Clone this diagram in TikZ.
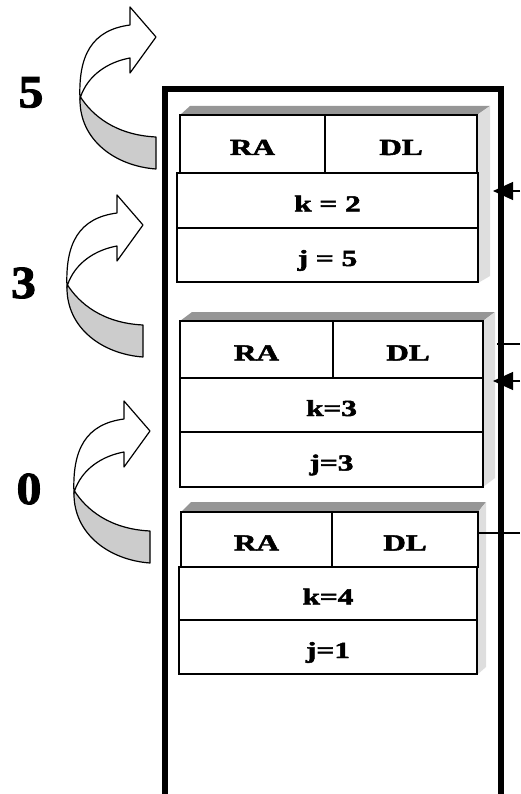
\documentclass[tikz,border=0pt]{standalone}
\usepackage{fontspec}
\setmainfont{Liberation Serif}
\newfontfamily\heavyserif{Liberation Serif}[BoldFeatures={FakeBold=2}]
\usetikzlibrary{arrows.meta}
\definecolor{topgray}{RGB}{150,150,150}
\definecolor{sidegray}{RGB}{222,222,222}
\definecolor{bandgray}{RGB}{204,204,204}
\newcommand{\celltxt}[1]{\scalebox{1.36}[1]{\fontsize{23}{23}\heavyserif\bfseries #1}}
\newcommand{\numtxt}[1]{\scalebox{1.08}[1]{\fontsize{46}{46}\heavyserif\bfseries #1}}
\begin{document}
\begin{tikzpicture}[x=1pt,y=-1pt,
  cell/.style={draw=black, line width=1.2pt, fill=white, inner sep=0pt,
    rectangle, text height=22pt, text depth=0pt},
  topface/.style={fill=topgray, draw=none},
  sideface/.style={fill=sidegray, draw=none},
  stackline/.style={line width=6pt, line join=miter},
  bandline/.style={draw=black, line width=1.2pt, line join=round},
  link/.style={draw=black, line width=1.1pt},
  linkarrow/.style={link, -{Triangle[length=20pt,width=18pt]}},
  numlabel/.style={inner sep=0pt}
]
\useasboundingbox (0,0) rectangle (520,794);

% ---- frame shadows ----
\fill[topface] (180,115) -- (190,106) -- (490,106) -- (477,115) -- cycle;
\fill[sideface] (477,115) -- (490,106) -- (490,276) -- (478,283) -- cycle;
\fill[topface] (180,321) -- (192,312) -- (495,312) -- (483,321) -- cycle;
\fill[sideface] (483,321) -- (495,312) -- (495,478) -- (483,487) -- cycle;
\fill[topface] (181,512) -- (191,502) -- (486,502) -- (478,512) -- cycle;
\fill[sideface] (478,512) -- (486,502) -- (486,667) -- (478,674) -- cycle;

% ---- frame 1 ----
\node[cell, minimum width=145pt, minimum height=58pt] (f1ra) at (252.5,144) {\celltxt{RA}};
\node[cell, minimum width=152pt, minimum height=58pt] (f1dl) at (401,144) {\celltxt{DL}};
\node[cell, minimum width=301pt, minimum height=55pt] (f1k) at (327.5,200.5) {\celltxt{k = 2}};
\node[cell, minimum width=301pt, minimum height=54pt] (f1j) at (327.5,255) {\celltxt{j = 5}};

% ---- frame 2 ----
\node[cell, minimum width=153pt, minimum height=57pt] (f2ra) at (256.5,349.5) {\celltxt{RA}};
\node[cell, minimum width=150pt, minimum height=57pt] (f2dl) at (408,349.5) {\celltxt{DL}};
\node[cell, minimum width=303pt, minimum height=54pt] (f2k) at (331.5,405) {\celltxt{k=3}};
\node[cell, minimum width=303pt, minimum height=55pt] (f2j) at (331.5,459.5) {\celltxt{j=3}};

% ---- frame 3 ----
\node[cell, minimum width=151pt, minimum height=55pt] (f3ra) at (256.5,539.5) {\celltxt{RA}};
\node[cell, minimum width=146pt, minimum height=55pt] (f3dl) at (405,539.5) {\celltxt{DL}};
\node[cell, minimum width=298pt, minimum height=53pt] (f3k) at (328,593.5) {\celltxt{k=4}};
\node[cell, minimum width=298pt, minimum height=54pt] (f3j) at (328,647) {\celltxt{j=1}};

% ---- stack outline ----
\draw[stackline] (164.5,794) -- (164.5,89.5) -- (500.5,89.5) -- (500.5,794);

% ---- links on the right ----
\coordinate (a1s) at (520,191);
\coordinate (a1e) at (493,191);
\coordinate (a2s) at (520,381);
\coordinate (a2e) at (493,381);
\coordinate (l2s) at (497,344);
\coordinate (l2e) at (520,344);
\coordinate (l3e) at (520,533);
\draw[linkarrow] (a1s) -- (a1e);
\draw[linkarrow] (a2s) -- (a2e);
\draw[link] (l2s) -- (l2e);
\draw[link] (f3dl.east |- l3e) -- (l3e);

% ---- curved arrows ----
\foreach \dx/\dy in {0/0, -13/188, -6/394} {
  \begin{scope}[shift={(\dx,\dy)}]
    \filldraw[bandline, fill=white]
      (80,100) .. controls (78,55) and (92,30) .. (130,25)
      -- (130,7) -- (156,37) -- (130,73) -- (130,58)
      .. controls (108,62) and (88,75) .. (80.5,97) -- cycle;
    \filldraw[bandline, fill=bandgray]
      (80.5,97) .. controls (92,115) and (115,135) .. (156,137)
      -- (156,169) .. controls (115,166) and (80,140) .. (80,100) -- cycle;
  \end{scope}
}

% ---- number labels ----
\node[numlabel] (n5) at (31,92.5) {\numtxt{5}};
\node[numlabel] (n3) at (23.5,283) {\numtxt{3}};
\node[numlabel] (n0) at (29,489) {\numtxt{0}};
\end{tikzpicture}
\end{document}
